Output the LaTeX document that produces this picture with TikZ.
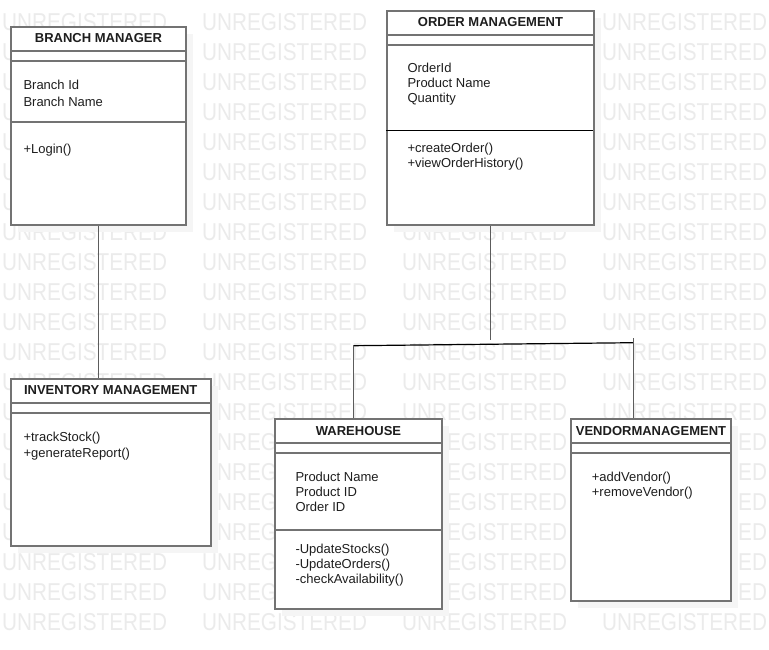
\documentclass[tikz,border=0pt]{standalone}
\usepackage{xcolor}
\usepackage{fontspec}
\setmainfont{Liberation Sans}
\usepackage{tikz}
\usetikzlibrary{calc}

\definecolor{boxline}{HTML}{737373}
\definecolor{wmgray}{HTML}{EBEBEB}
\definecolor{shadegray}{HTML}{F5F5F5}
\definecolor{linkgray}{HTML}{5C5C5C}
\definecolor{ink}{HTML}{1E1E1E}

\begin{document}
\begin{tikzpicture}[x=1pt, y=-1pt,
                    cls/.style n args={2}{draw=boxline, line width=2pt, fill=white,
                    minimum width=#1pt, minimum height=#2pt,
                    anchor=north west, inner sep=0pt, rectangle,
                    preaction={fill=shadegray, draw=none,
                               transform canvas={xshift=7pt, yshift=-7pt}}},
                    sep/.style={boxline, line width=2pt},
                    ttl/.style={font=\fontsize{13}{15}\selectfont\bfseries, text=ink, inner sep=0pt},
                    txt/.style={font=\fontsize{13}{15}\selectfont, text=ink,
                    anchor=base west, inner sep=0pt},
                    wm/.style={font=\fontsize{24.4}{26}\selectfont, text=wmgray,
                    anchor=base west, inner sep=0pt},
                    link/.style={linkgray, line width=1.5pt}]
    \useasboundingbox[fill=white] (0,0) rectangle (769,649);

    % watermark
    \foreach \r in {0,...,20}
        \foreach \c in {0,...,3}
            \node[wm] (wm-\r-\c) at (2+200*\c, 30.5+30*\r) {\scalebox{0.85}[1]{UNREGISTERED}};

    % classes
    \node[cls={175}{198}] (branch) at (10,26) {};
    \node[cls={207}{213.5}] (order) at (386,10) {};
    \node[cls={199.5}{167}] (inventory) at (10,378) {};
    \node[cls={167}{190}] (warehouse) at (274,418.3) {};
    \node[cls={160}{182}] (vendor) at (570,418.3) {};

    \foreach \n in {branch,order,inventory,warehouse,vendor}{
        \draw[sep] ($(\n.north west)+(0,24.5)$) -- ($(\n.north east)+(0,24.5)$);
        \draw[sep] ($(\n.north west)+(0,34.5)$) -- ($(\n.north east)+(0,34.5)$);
    }
    \draw[sep] ($(branch.north west)+(0,95.7)$) -- ($(branch.north east)+(0,95.7)$);
    \draw[black, line width=1.2pt] ($(order.north west)+(0,120.7)$) -- ($(order.north east)+(-2,120.7)$);
    \draw[sep] ($(warehouse.north west)+(0,111.7)$) -- ($(warehouse.north east)+(-2,111.7)$);

    % titles
    \node[ttl] (branch-t) at ($(branch.north)+(0,12.25)$) {BRANCH MANAGER};
    \node[ttl] (order-t) at ($(order.north)+(0,12.25)$) {ORDER MANAGEMENT};
    \node[ttl] (inventory-t) at ($(inventory.north)+(0,12.25)$) {INVENTORY MANAGEMENT};
    \node[ttl] (warehouse-t) at ($(warehouse.north)+(0,12.25)$) {WAREHOUSE};
    \node[ttl] (vendor-t) at ($(vendor.north)+(0,12.25)$) {VENDORMANAGEMENT};

    % members
    \foreach \t [count=\i] in {Branch Id, Branch Name}
        \node[txt] (branch-a\i) at (23.3, 72.6+16.7*\i) {\t};
    \node[txt] (branch-m1) at (23.3,153) {+Login()};

    \foreach \t [count=\i] in {OrderId, Product Name, Quantity}
        \node[txt] (order-a\i) at (407.3, 57.7+15*\i) {\t};
    \foreach \t [count=\i] in {+createOrder(), +viewOrderHistory()}
        \node[txt] (order-m\i) at (407.3, 137.8+15*\i) {\t};

    \foreach \t [count=\i] in {+trackStock(), +generateReport()}
        \node[txt] (inventory-m\i) at (23.3, 425.7+16*\i) {\t};

    \foreach \t [count=\i] in {Product Name, Product ID, Order ID}
        \node[txt] (warehouse-a\i) at (295.3, 466.7+15*\i) {\t};
    \foreach \t [count=\i] in {-UpdateStocks(), -UpdateOrders(), -checkAvailability()}
        \node[txt] (warehouse-m\i) at (295.3, 538.3+15*\i) {\t};

    \foreach \t [count=\i] in {+addVendor(), +removeVendor()}
        \node[txt] (vendor-m\i) at (591.7, 466.7+15*\i) {\t};

    % links
    \coordinate (stub) at (490,340);
    \coordinate (busl) at (353.3,345.7);
    \coordinate (busr) at (633.3,342.7);
    \coordinate (bustop) at (633.3,338.3);
    \draw[link] (branch.south) -- (branch.south |- inventory.north);
    \draw[link] (order.south) -- (order.south |- stub);
    \draw[black, line width=1.2pt] (busl) -- (busr);
    \draw[link] (busl) -- (busl |- warehouse.north);
    \draw[link] (bustop) -- (bustop |- vendor.north);

\end{tikzpicture}
\end{document}
